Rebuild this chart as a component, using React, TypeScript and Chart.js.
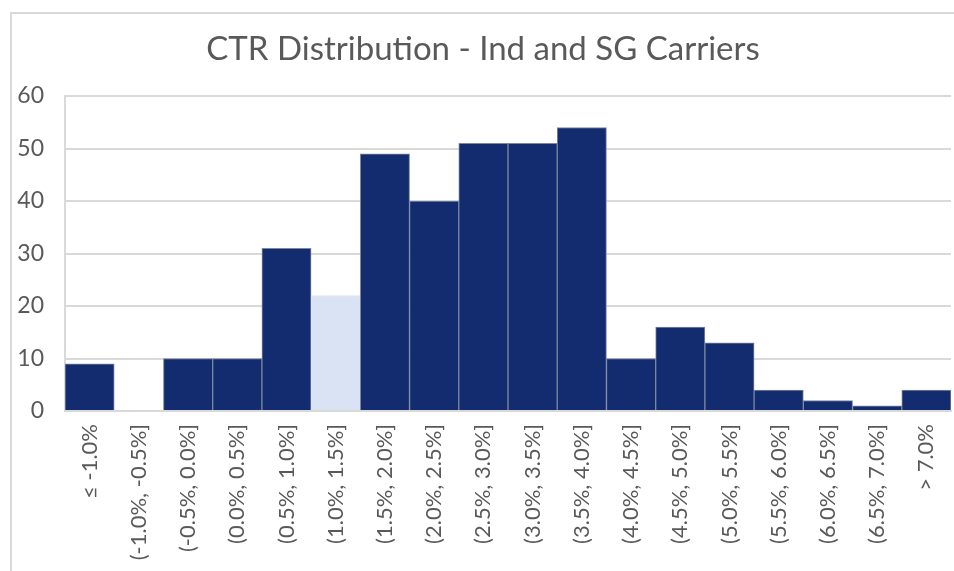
import React, { useEffect, useRef } from "react";
import { Chart, registerables } from "chart.js";

Chart.register(...registerables);

const TITLE = "CTR Distribution - Ind and SG Carriers";
const categories = [
  "≤ -1.0%",
  "(-1.0%, -0.5%]",
  "(-0.5%, 0.0%]",
  "(0.0%, 0.5%]",
  "(0.5%, 1.0%]",
  "(1.0%, 1.5%]",
  "(1.5%, 2.0%]",
  "(2.0%, 2.5%]",
  "(2.5%, 3.0%]",
  "(3.0%, 3.5%]",
  "(3.5%, 4.0%]",
  "(4.0%, 4.5%]",
  "(4.5%, 5.0%]",
  "(5.0%, 5.5%]",
  "(5.5%, 6.0%]",
  "(6.0%, 6.5%]",
  "(6.5%, 7.0%]",
  "> 7.0%",
];
const counts = [9, 0, 10, 10, 31, 22, 49, 40, 51, 51, 54, 10, 16, 13, 4, 2, 1, 4];
const highlightIndex = 5;
const yTicks = [0, 10, 20, 30, 40, 50, 60];

const DARK = "#132c70";
const LIGHT = "#dae3f3";
const GRID = "#d9d9d9";
const TEXT = "#595959";
const FONT = "Lato, 'Open Sans', sans-serif";

const titlePlugin = {
  id: "offsetTitle",
  afterDraw(chart: any) {
    const ctx = chart.ctx;
    ctx.save();
    ctx.font = `normal 33px ${FONT}`;
    ctx.fillStyle = TEXT;
    ctx.textAlign = "center";
    ctx.textBaseline = "alphabetic";
    ctx.fillText(TITLE, 483, 60);
    ctx.restore();
  },
};

export default function App() {
  const ref = useRef<HTMLCanvasElement | null>(null);

  useEffect(() => {
    document.body.style.margin = "0";
    const canvas = ref.current;
    if (!canvas) return;
    const chart = new Chart(canvas, {
      type: "bar",
      data: {
        labels: categories,
        datasets: [
          {
            data: counts,
            backgroundColor: counts.map((_, i) => (i === highlightIndex ? LIGHT : DARK)),
            borderColor: counts.map((_, i) => (i === highlightIndex ? LIGHT : "#7b879e")),
            borderWidth: 1,
            borderSkipped: "bottom",
            categoryPercentage: 1,
            barPercentage: 1,
          },
        ],
      },
      plugins: [titlePlugin],
      options: {
        animation: false,
        responsive: false,
        maintainAspectRatio: false,
        layout: { padding: { left: 0, right: 3, top: 96, bottom: 0 } },
        plugins: {
          legend: { display: false },
          tooltip: { enabled: false },
          title: { display: false },
        },
        scales: {
          x: {
            grid: { display: false, drawTicks: false },
            border: { display: true, color: GRID, width: 2 },
            ticks: {
              color: TEXT,
              font: { family: FONT, size: 22 },
              minRotation: 90,
              maxRotation: 90,
              autoSkip: false,
              padding: 13,
            },
            afterFit: (scale: any) => {
              scale.height = 160;
              scale.paddingLeft = 0;
              scale.paddingRight = 0;
            },
          },
          y: {
            min: 0,
            max: 60,
            afterBuildTicks: (scale: any) => {
              scale.ticks = yTicks.map((v) => ({ value: v }));
            },
            grid: { color: GRID, lineWidth: 2, drawTicks: false },
            border: { display: true, color: GRID, width: 2 },
            ticks: {
              color: TEXT,
              font: { family: FONT, size: 23 },
              padding: 21,
            },
            afterFit: (scale: any) => {
              scale.width = 65;
              scale.paddingTop = 0;
              scale.paddingBottom = 0;
            },
          },
        },
      },
    });
    return () => chart.destroy();
  }, []);

  return (
    <div style={{ position: "fixed", left: 0, top: 0, width: 954, height: 571, background: "#fff", overflow: "hidden" }}>
      <div
        style={{
          position: "absolute",
          left: 10,
          top: 12,
          width: 1000,
          height: 700,
          borderLeft: `2px solid ${GRID}`,
          borderTop: `2px solid ${GRID}`,
          boxSizing: "border-box",
        }}
      />
      <canvas ref={ref} width={954} height={571} style={{ position: "absolute", left: 0, top: 0 }} />
    </div>
  );
}
